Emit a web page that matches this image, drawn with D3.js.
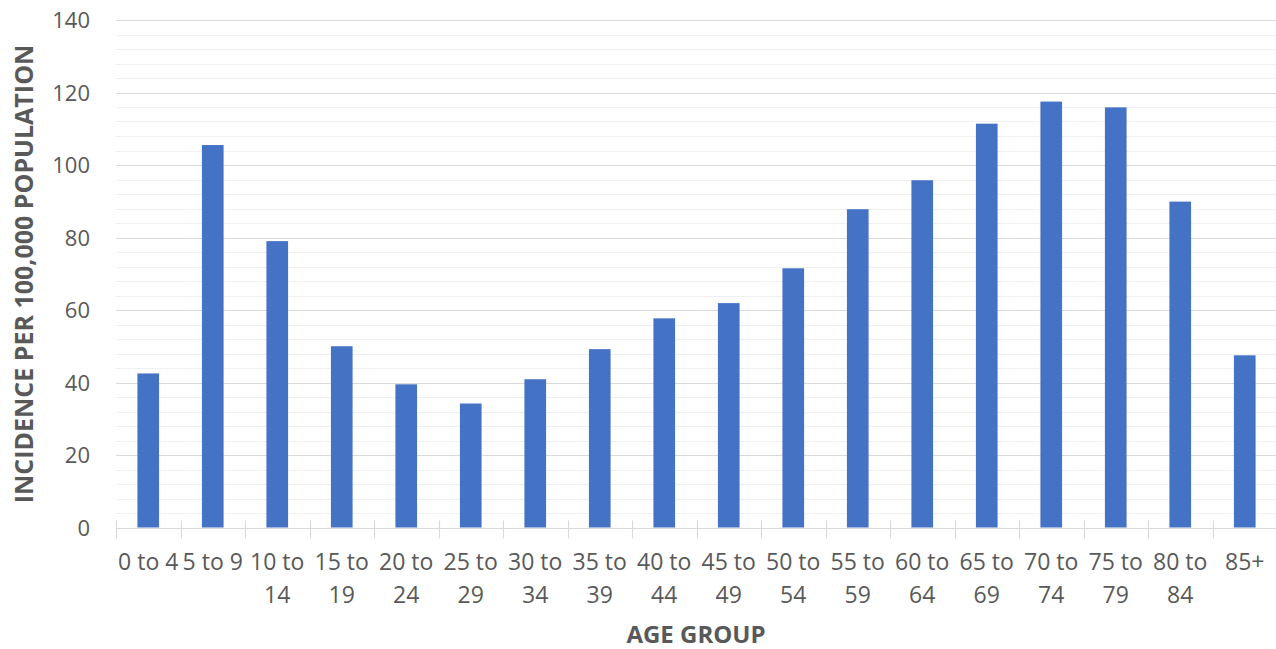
<!DOCTYPE html>
<html>
<head>
<meta charset="utf-8">
<script src="https://cdn.jsdelivr.net/npm/d3@7"></script>
<style>
  html, body { margin: 0; padding: 0; background: #ffffff; }
  svg { display: block; }
  text { font-family: "Open Sans", "Liberation Sans", sans-serif; fill: #595959; }
</style>
</head>
<body>
<svg id="chart" width="1276" height="649"></svg>
<script>
// Incidence per 100,000 population by age group
const ageGroups = ["0 to 4", "5 to 9", "10 to 14", "15 to 19", "20 to 24", "25 to 29",
  "30 to 34", "35 to 39", "40 to 44", "45 to 49", "50 to 54", "55 to 59",
  "60 to 64", "65 to 69", "70 to 74", "75 to 79", "80 to 84", "85+"];
const incidence = [42.5, 105.5, 79.0, 50.0, 39.5, 34.2, 40.9, 49.2, 57.7, 61.9,
  71.5, 87.8, 95.8, 111.4, 117.5, 115.9, 89.9, 47.5];
const yTicks = [0, 20, 40, 60, 80, 100, 120, 140];
const yMinorTicks = d3.range(0, 141, 4);
const xTitle = "AGE GROUP";
const yTitle = "INCIDENCE PER 100,000 POPULATION";

const svg = d3.select("#chart");
const margin = { left: 116, right: -1, top: 20, bottom: 122 };
const W = 1276, H = 649;

const x = d3.scaleBand()
  .domain(ageGroups)
  .range([margin.left, W - margin.right])
  .paddingInner(0.664)
  .paddingOuter(0.332);

const y = d3.scaleLinear()
  .domain([0, 140])
  .range([H - margin.bottom + 0.5, margin.top]);

// minor gridlines
svg.append("g")
  .selectAll("line")
  .data(yMinorTicks.filter(v => v % 20 !== 0))
  .join("line")
  .attr("x1", margin.left).attr("x2", W)
  .attr("y1", d => Math.round(y(d)) + 0.5).attr("y2", d => Math.round(y(d)) + 0.5)
  .attr("stroke", "#efefef").attr("stroke-width", 1);

// major gridlines
svg.append("g")
  .selectAll("line")
  .data(yTicks.filter(v => v !== 0))
  .join("line")
  .attr("x1", margin.left).attr("x2", W)
  .attr("y1", d => Math.round(y(d)) + 0.5).attr("y2", d => Math.round(y(d)) + 0.5)
  .attr("stroke", "#d9d9d9").attr("stroke-width", 1);

// y axis labels
const yAxis = svg.append("g")
  .attr("transform", `translate(${90},0)`)
  .call(d3.axisLeft(y).tickValues(yTicks).tickSize(0).tickPadding(0));
yAxis.select(".domain").remove();
yAxis.selectAll("text")
  .attr("font-size", 22)
  .attr("fill", "#595959")
  .attr("font-family", "Open Sans, sans-serif")
  .attr("dy", "0.36em");

// bars
svg.append("g")
  .selectAll("rect")
  .data(ageGroups.map((g, i) => ({ g, v: incidence[i] })))
  .join("rect")
  .attr("x", d => x(d.g))
  .attr("width", x.bandwidth())
  .attr("y", d => y(d.v))
  .attr("height", d => y(0) - y(d.v))
  .attr("fill", "#4472c4");

// x axis: baseline, category boundary ticks, wrapped labels
const y0 = Math.round(y(0)) + 0.5;
svg.append("line")
  .attr("x1", margin.left).attr("x2", W)
  .attr("y1", y0).attr("y2", y0)
  .attr("stroke", "#d9d9d9").attr("stroke-width", 1.2);

const step = x.step();
const boundaries = d3.range(ageGroups.length + 1).map(i => margin.left + i * step);
svg.append("g")
  .selectAll("line")
  .data(boundaries)
  .join("line")
  .attr("x1", d => Math.round(d) + 0.5).attr("x2", d => Math.round(d) + 0.5)
  .attr("y1", y0 - 8).attr("y2", y0 + 10)
  .attr("stroke", "#d9d9d9").attr("stroke-width", 1.2);

const labels = svg.append("g")
  .selectAll("text")
  .data(ageGroups)
  .join("text")
  .attr("x", d => x(d) + x.bandwidth() / 2)
  .attr("y", 570)
  .attr("text-anchor", "middle")
  .attr("font-size", 23);

labels.each(function(d) {
  const t = d3.select(this);
  t.text(d);
  if (this.getComputedTextLength() > step) {
    const cut = d.lastIndexOf(" ");
    t.text(null);
    t.append("tspan").attr("x", t.attr("x")).attr("dy", 0).text(d.slice(0, cut));
    t.append("tspan").attr("x", t.attr("x")).attr("dy", 33).text(d.slice(cut + 1));
  }
});

// axis titles
svg.append("text")
  .attr("x", (margin.left + W) / 2)
  .attr("y", 643)
  .attr("text-anchor", "middle")
  .attr("font-size", 24)
  .attr("font-weight", "bold")
  .text(xTitle);

svg.append("text")
  .attr("transform", `translate(33,274) rotate(-90)`)
  .attr("text-anchor", "middle")
  .attr("font-size", 25)
  .attr("font-weight", "bold")
  .text(yTitle);
</script>
</body>
</html>
